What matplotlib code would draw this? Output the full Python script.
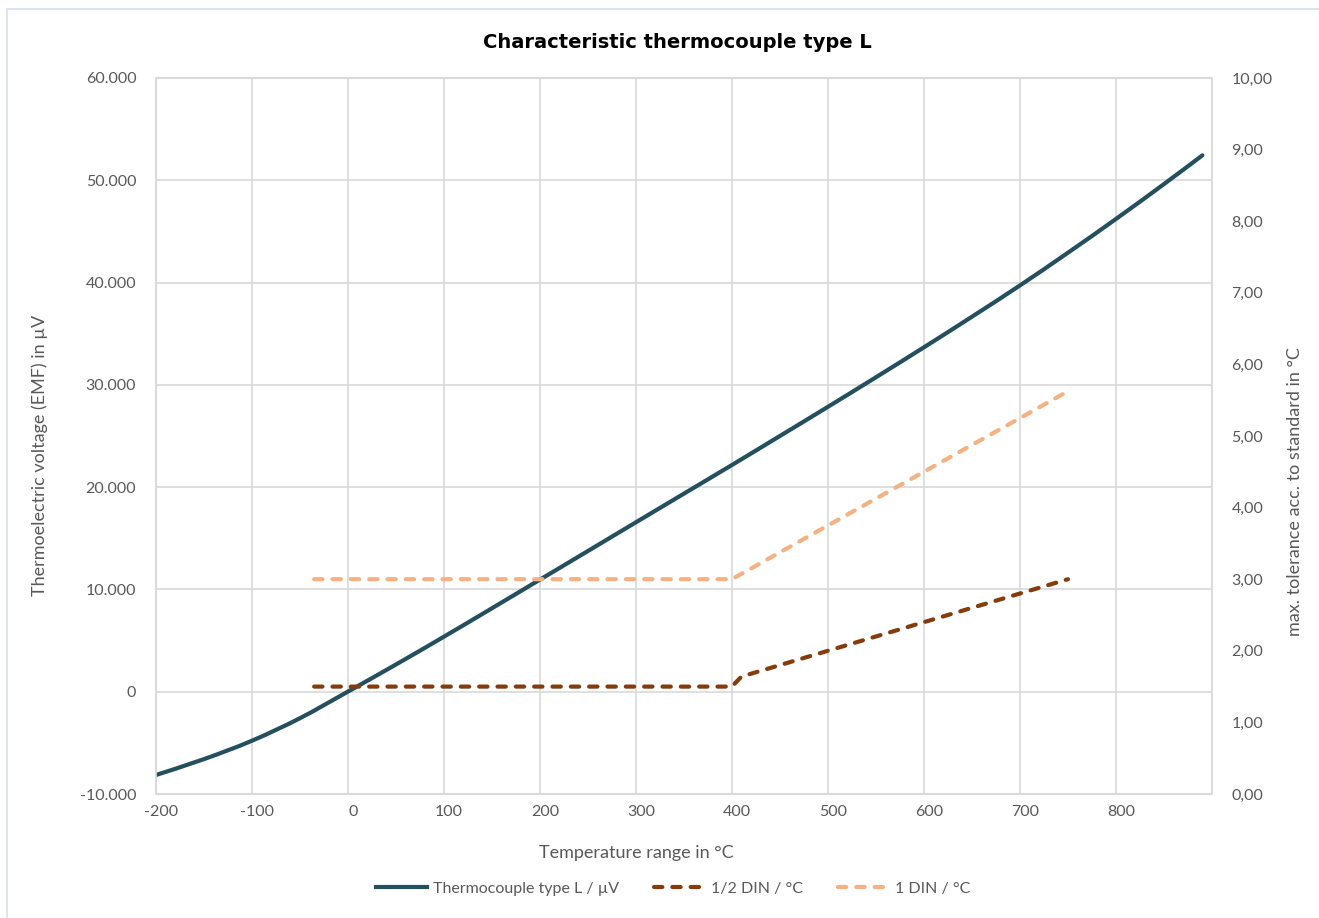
import numpy as np
import matplotlib
matplotlib.use("Agg")
import matplotlib.pyplot as plt
import matplotlib.transforms as mtransforms
from matplotlib.ticker import FuncFormatter, MultipleLocator
from matplotlib.patches import Rectangle, PathPatch
from matplotlib.path import Path
from matplotlib.lines import Line2D

# Thermocouple type L (Fe-CuNi), EMF in µV
temp_emf = [-200, -150, -100, -50, 0, 50, 100, 150, 200, 250, 300, 350, 400,
            450, 500, 550, 600, 650, 700, 750, 800, 850, 890]
emf = [-8150, -6600, -4800, -2600, 0, 2650, 5370, 8150, 10950, 13750, 16560,
       19360, 22160, 25000, 27850, 30740, 33670, 36660, 39720, 42920, 46220,
       49630, 52440]

# tolerance classes
temp_din = [-35, 400, 410, 750]
tol_half_din = [1.5, 1.5, 1.64, 3.0]
tol_full_din = [3.0, 3.0, 3.075, 5.625]

text_col = "#595959"
grid_col = "#D9D9D9"
emf_col = "#244F5E"

plt.rcParams["font.family"] = ["Lato", "DejaVu Sans"]
plt.rcParams["axes.unicode_minus"] = False


def smooth_path(x, y):
    # Excel style smoothed line (Catmull-Rom as cubic Bezier)
    pts = np.column_stack([x, y]).astype(float)
    n = len(pts)
    verts = [pts[0]]
    codes = [Path.MOVETO]
    for i in range(n - 1):
        p0 = pts[i - 1] if i > 0 else pts[i]
        p1, p2 = pts[i], pts[i + 1]
        p3 = pts[i + 2] if i + 2 < n else pts[i + 1]
        verts += [p1 + (p2 - p0) / 6, p2 - (p3 - p1) / 6, p2]
        codes += [Path.CURVE4] * 3
    return Path(verts, codes)


fig = plt.figure(figsize=(13.19, 9.18), dpi=100)
W, H = 1319, 918
ax = fig.add_axes([155.7 / W, 1 - 794 / H, (1212 - 155.7) / W, (794 - 78) / H])
ax2 = ax.twinx()

# chart frame (only left/top visible)
fig.patches.append(Rectangle((7 / W, -0.1), 1.2, 1 - 9 / H + 0.1, transform=fig.transFigure,
                             fill=False, edgecolor="#D5E0EA", linewidth=1.2))

ax.add_patch(PathPatch(smooth_path(temp_emf, emf), fill=False, edgecolor=emf_col,
                       lw=3.0, capstyle="round", zorder=3))
l1 = Line2D([], [], color=emf_col, lw=3.0, label="Thermocouple type L / µV")
l2, = ax2.plot(temp_din, tol_half_din, color="#843C0C", lw=3.0, dashes=(2.0, 2.4),
               dash_capstyle="round", label="1/2 DIN / °C", zorder=3)
l3, = ax2.plot(temp_din, tol_full_din, color="#F4B183", lw=3.0, dashes=(2.0, 2.4),
               dash_capstyle="round", label="1 DIN / °C", zorder=3)

ax.set_xlim(-200, 900)
ax.set_ylim(-10000, 60000)
ax2.set_ylim(0, 10)
ax.set_xticks(np.arange(-200, 900, 100))
ax.yaxis.set_major_locator(MultipleLocator(10000))
ax2.yaxis.set_major_locator(MultipleLocator(1))

ax.yaxis.set_major_formatter(FuncFormatter(lambda v, p: f"{v:,.0f}".replace(",", ".")))
ax2.yaxis.set_major_formatter(FuncFormatter(lambda v, p: f"{v:.2f}".replace(".", ",")))

ax.grid(True, color=grid_col, lw=1.2)
ax.set_axisbelow(True)
for a in (ax, ax2):
    for s in a.spines.values():
        s.set_color(grid_col)
        s.set_linewidth(1.2)
    a.tick_params(which="both", length=0, labelsize=11.5, labelcolor=text_col)
ax.tick_params(axis="y", pad=14)
ax.tick_params(axis="x", pad=8)
ax2.tick_params(axis="y", pad=14)

# Excel shifts the x labels slightly right
offset = mtransforms.ScaledTranslation(5 / 100, 0, fig.dpi_scale_trans)
for lab in ax.get_xticklabels():
    lab.set_transform(lab.get_transform() + offset)

ax.set_xlabel("Temperature range in °C", fontsize=13, color=text_col)
ax.xaxis.set_label_coords((636 - 155.7) / (1212 - 155.7), -(845 - 794) / 716)
ax.set_ylabel("Thermoelectric voltage (EMF) in µV", fontsize=13, color=text_col)
ax.yaxis.set_label_coords(-(155.7 - 48) / (1212 - 155.7), (794 - 455) / 716)
ax2.set_ylabel("max. tolerance acc. to standard in °C", fontsize=13, color=text_col)
ax2.yaxis.set_label_coords(1 + (1287 - 1212) / (1212 - 155.7), (794 - 492) / 716)

fig.text(677 / W, 1 - 42 / H, "Characteristic thermocouple type L", ha="center", va="center",
         fontsize=14, fontweight="bold", color="#000000", family=["DejaVu Sans"])

fig.legend(handles=[l1, l2, l3], loc="center", bbox_to_anchor=(673 / W, 1 - 889 / H),
           ncol=3, frameon=False, fontsize=11.5, labelcolor=text_col,
           handlelength=3.2, handletextpad=0.35, columnspacing=2.2)

fig.savefig("out.png", dpi=100)
plt.close()
